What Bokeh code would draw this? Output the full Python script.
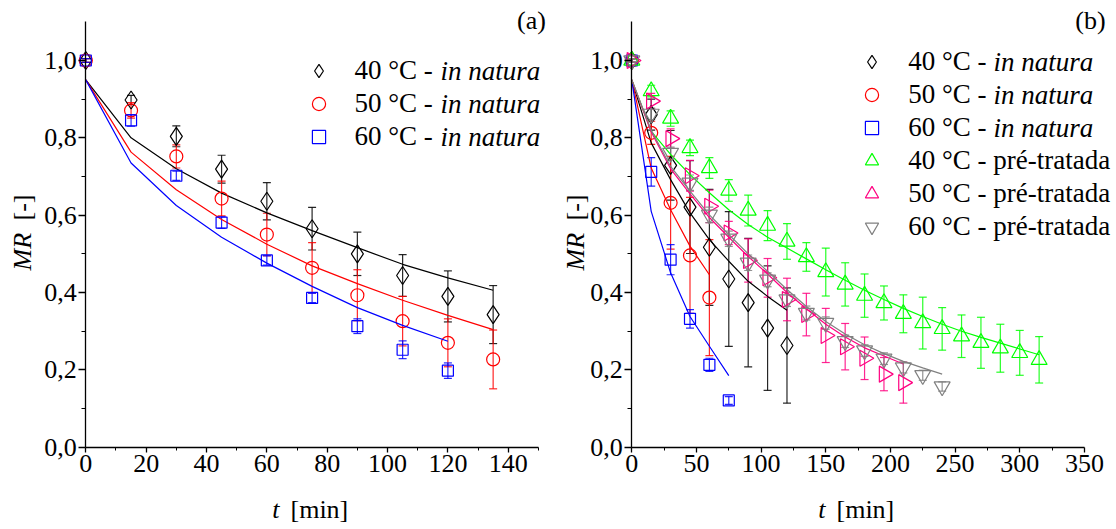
import math
from bokeh.plotting import figure
from bokeh.layouts import row
from bokeh.models import (ColumnDataSource, Whisker, TeeHead, Label, Legend, LegendItem,
                          Range1d, FixedTicker, CustomJSTickFormatter)
from bokeh.embed import file_html
from bokeh.resources import INLINE

# ---------------- Panel (a) data ----------------
t_a = [0, 15, 30, 45, 60, 75, 90, 105, 120, 135]
t_a60 = [0, 15, 30, 45, 60, 75, 90, 105, 120]
mr_a40 = [1.0, 0.898, 0.804, 0.719, 0.636, 0.565, 0.500, 0.444, 0.390, 0.343]
err_a40 = [0.005, 0.012, 0.027, 0.036, 0.048, 0.055, 0.056, 0.054, 0.066, 0.075]
fit_a40 = [0.95, 0.800, 0.720, 0.657, 0.606, 0.560, 0.516, 0.473, 0.438, 0.406]
mr_a50 = [1.0, 0.871, 0.752, 0.643, 0.550, 0.464, 0.393, 0.326, 0.270, 0.227]
err_a50 = [0.005, 0.020, 0.030, 0.045, 0.055, 0.065, 0.066, 0.064, 0.062, 0.076]
fit_a50 = [0.95, 0.763, 0.666, 0.589, 0.525, 0.469, 0.423, 0.380, 0.341, 0.304]
mr_a60 = [1.0, 0.845, 0.702, 0.581, 0.483, 0.386, 0.313, 0.252, 0.198]
err_a60 = [0.005, 0.015, 0.012, 0.015, 0.012, 0.012, 0.019, 0.023, 0.020]
fit_a60 = [0.95, 0.735, 0.625, 0.543, 0.476, 0.416, 0.361, 0.315, 0.274]

# ---------------- Panel (b) data ----------------
t_b40n = [0, 15, 30, 45, 60, 75, 90, 105, 120]
mr_b40n = [1.0, 0.860, 0.729, 0.621, 0.517, 0.435, 0.374, 0.308, 0.263]
err_b40n = [0.005, 0.040, 0.090, 0.120, 0.150, 0.174, 0.166, 0.161, 0.149]
fit_b40n = [0.95, 0.787, 0.692, 0.606, 0.537, 0.481, 0.429, 0.390, 0.354]

t_b50n = [0, 15, 30, 45, 60]
mr_b50n = [1.0, 0.813, 0.632, 0.496, 0.387]
err_b50n = [0.005, 0.030, 0.120, 0.150, 0.150]
fit_b50n = [0.95, 0.722, 0.614, 0.520, 0.446]

t_b60n = [0, 15, 30, 45, 60, 75]
mr_b60n = [1.0, 0.712, 0.485, 0.332, 0.213, 0.121]
err_b60n = [0.005, 0.037, 0.039, 0.024, 0.017, 0.010]
fit_b60n = [0.95, 0.610, 0.451, 0.338, 0.261, 0.185]

t_b40p = [0, 15, 30, 45, 60, 75, 90, 105, 120, 135, 150, 165, 180, 195, 210,
          225, 240, 255, 270, 285, 300, 315]
mr_b40p = [1.0, 0.921, 0.850, 0.774, 0.722, 0.664, 0.612, 0.573, 0.532, 0.492, 0.453,
           0.421, 0.392, 0.373, 0.345, 0.321, 0.306, 0.287, 0.270, 0.256, 0.244, 0.226]
err_b40p = [0.005, 0.015, 0.020, 0.020, 0.027, 0.028, 0.040, 0.039, 0.046, 0.037, 0.062,
            0.056, 0.056, 0.044, 0.049, 0.067, 0.055, 0.055, 0.066, 0.062, 0.058, 0.060]
fit_b40p = [0.95, 0.817, 0.757, 0.705, 0.658, 0.614, 0.576, 0.543, 0.515, 0.487, 0.459,
            0.432, 0.406, 0.382, 0.359, 0.338, 0.318, 0.300, 0.284, 0.269, 0.254, 0.239]

t_b50p = [0, 15, 30, 45, 60, 75, 90, 105, 120, 135, 150, 165, 180, 195, 210]
mr_b50p = [1.0, 0.895, 0.798, 0.702, 0.623, 0.554, 0.483, 0.438, 0.382, 0.343, 0.289,
           0.260, 0.230, 0.189, 0.167]
err_b50p = [0.005, 0.020, 0.025, 0.040, 0.042, 0.030, 0.056, 0.050, 0.055, 0.055, 0.070,
            0.060, 0.055, 0.043, 0.053]
fit_b50p = [0.95, 0.815, 0.720, 0.655, 0.594, 0.543, 0.493, 0.448, 0.400, 0.358, 0.318,
            0.285, 0.257, 0.236, 0.215]

t_b60p = [0, 15, 30, 45, 60, 75, 90, 105, 120, 135, 150, 165, 180, 195, 210, 225, 240]
mr_b60p = [1.0, 0.862, 0.761, 0.684, 0.601, 0.539, 0.477, 0.433, 0.382, 0.347, 0.321,
           0.274, 0.250, 0.229, 0.206, 0.186, 0.157]
err_b60p = [0.005, 0.015, 0.015, 0.020, 0.020, 0.020, 0.020, 0.018, 0.018, 0.018, 0.016,
            0.016, 0.015, 0.015, 0.014, 0.013, 0.012]
fit_b60p = [0.95, 0.820, 0.726, 0.662, 0.601, 0.550, 0.500, 0.455, 0.408, 0.364, 0.325,
            0.293, 0.265, 0.242, 0.222, 0.205, 0.189]

labels_temp = ["40 °C - ", "50 °C - ", "60 °C - "]
label_natura = "in natura"
label_pre = "pré-tratada"
y_ticks = [0.0, 0.2, 0.4, 0.6, 0.8, 1.0]
y_minor = [0.1, 0.3, 0.5, 0.7, 0.9]
xa_ticks = [0, 20, 40, 60, 80, 100, 120, 140]
xa_minor = [10, 30, 50, 70, 90, 110, 130, 150]
xb_ticks = [0, 50, 100, 150, 200, 250, 300, 350]
xb_minor = [25, 75, 125, 175, 225, 275, 325]

C_BLACK = "#000000"
C_RED = "#ff0000"
C_BLUE = "#0000ff"
C_GREEN = "#00ff00"
C_PINK = "#ff0080"
C_GRAY = "#808080"

FONT = "Liberation Serif"
W, H = 558, 529
Y_RANGE = (-0.2128, 1.1552)


def make_fig(x_range, x_end, xt, xm):
    p = figure(width=W, height=H, x_range=Range1d(*x_range), y_range=Range1d(*Y_RANGE),
               output_backend="svg", toolbar_location=None,
               min_border=0, min_border_left=0, min_border_right=0,
               min_border_top=0, min_border_bottom=0)
    p.outline_line_color = None
    p.grid.visible = False
    p.background_fill_color = "white"
    p.border_fill_color = "white"
    p.xaxis.fixed_location = 0
    p.yaxis.fixed_location = 0
    p.xaxis.bounds = (0, x_end)
    p.yaxis.bounds = (0, 1.1)
    p.xaxis.ticker = FixedTicker(ticks=xt, minor_ticks=xm)
    p.yaxis.ticker = FixedTicker(ticks=y_ticks, minor_ticks=y_minor)
    p.yaxis.formatter = CustomJSTickFormatter(code="return tick.toFixed(1).replace('.', ',');")
    for ax in (p.xaxis[0], p.yaxis[0]):
        ax.axis_line_color = "black"
        ax.axis_line_width = 1.3
        ax.major_tick_line_color = "black"
        ax.major_tick_line_width = 1.3
        ax.minor_tick_line_color = "black"
        ax.minor_tick_line_width = 1.0
        ax.major_tick_in = 0
        ax.minor_tick_in = 0
        ax.major_label_text_font = FONT
        ax.major_label_text_font_size = "26px"
        ax.major_label_text_color = "black"
        ax.axis_label = None
    p.xaxis.major_tick_out = 5
    p.xaxis.minor_tick_out = 3
    p.yaxis.major_tick_out = 7
    p.yaxis.minor_tick_out = 4
    p.xaxis.major_label_standoff = 3
    p.yaxis.major_label_standoff = 2
    return p


def series(p, t, mr, err, fit, color, marker, size, angle=0.0):
    src = ColumnDataSource(dict(t=t, mr=mr,
                                lo=[m - e for m, e in zip(mr, err)],
                                hi=[m + e for m, e in zip(mr, err)]))
    p.add_layout(Whisker(source=src, base="t", lower="lo", upper="hi",
                         line_color=color, line_width=1.2, line_alpha=0.85,
                         upper_head=TeeHead(size=8, line_color=color, line_width=1.2, line_alpha=0.85),
                         lower_head=TeeHead(size=8, line_color=color, line_width=1.2, line_alpha=0.85)))
    p.line(t, fit, line_color=color, line_width=1.2)
    r = p.scatter("t", "mr", source=src, marker=marker, size=size, angle=angle,
                  line_color=color, fill_color=None, line_width=1.2)
    return r


def txt(p, x, y, text, size="26px", style="normal", angle=0.0, align="left"):
    p.add_layout(Label(x=x, y=y, x_units="screen", y_units="screen", text=text,
                       text_font=FONT, text_font_size=size, text_font_style=style,
                       text_color="black", text_align=align, text_baseline="middle",
                       angle=angle))


def legend(p, items, x, y):
    lg = Legend(items=items, location=(x, y), orientation="vertical",
                glyph_width=33, glyph_height=33, label_height=33, label_width=10,
                label_standoff=20, spacing=0, padding=0, margin=0,
                border_line_color=None, background_fill_alpha=0,
                label_text_font=FONT, label_text_font_size="27px",
                label_text_color="black")
    p.add_layout(lg)


# ---------------- Figure (a) ----------------
pa = make_fig((-28.27, 156.66), 150, xa_ticks, xa_minor)
ra1 = series(pa, t_a, mr_a40, err_a40, fit_a40, C_BLACK, "diamond", 18)
ra2 = series(pa, t_a, mr_a50, err_a50, fit_a50, C_RED, "circle", 13)
ra3 = series(pa, t_a60, mr_a60, err_a60, fit_a60, C_BLUE, "square", 11)
legend(pa, [LegendItem(label=labels_temp[0], renderers=[ra1]),
            LegendItem(label=labels_temp[1], renderers=[ra2]),
            LegendItem(label=labels_temp[2], renderers=[ra3])], 301.5, 376.5)
for k in range(3):
    txt(pa, 440, 459 - 33 * k, label_natura, size="27px", style="italic")
txt(pa, 271.7, 20, "t", style="italic")
txt(pa, 290, 20, "[min]")
txt(pa, 22, 259, "MR", style="italic", angle=math.pi / 2)
txt(pa, 22, 309, "[-]", angle=math.pi / 2)
txt(pa, 531, 509, "(a)", align="center")

# ---------------- Figure (b) ----------------
pb = make_fig((-56.69, 374.83), 350, xb_ticks, xb_minor)
rb1 = series(pb, t_b40n, mr_b40n, err_b40n, fit_b40n, C_BLACK, "diamond", 18)
rb2 = series(pb, t_b50n, mr_b50n, err_b50n, fit_b50n, C_RED, "circle", 13)
rb3 = series(pb, t_b60n, mr_b60n, err_b60n, fit_b60n, C_BLUE, "square", 11)
rb4 = series(pb, t_b40p, mr_b40p, err_b40p, fit_b40p, C_GREEN, "triangle", 16)
rb5 = series(pb, t_b50p, mr_b50p, err_b50p, fit_b50p, C_PINK, "triangle", 16, -math.pi / 2)
rb6 = series(pb, t_b60p, mr_b60p, err_b60p, fit_b60p, C_GRAY, "inverted_triangle", 16)
legend(pb, [LegendItem(label=labels_temp[0], renderers=[rb1]),
            LegendItem(label=labels_temp[1], renderers=[rb2]),
            LegendItem(label=labels_temp[2], renderers=[rb3]),
            LegendItem(label=labels_temp[0] + label_pre, renderers=[rb4]),
            LegendItem(label=labels_temp[1] + label_pre, renderers=[rb5]),
            LegendItem(label=labels_temp[2] + label_pre, renderers=[rb6])], 297.2, 285.8)
for k in range(3):
    txt(pb, 435, 467.3 - 33 * k, label_natura, size="27px", style="italic")
txt(pb, 259.7, 20, "t", style="italic")
txt(pb, 278, 20, "[min]")
txt(pb, 17, 259, "MR", style="italic", angle=math.pi / 2)
txt(pb, 17, 309, "[-]", angle=math.pi / 2)
txt(pb, 532, 509, "(b)", align="center")

layout = row(pa, pb)
open("out.html", "w").write(file_html(layout, INLINE))
